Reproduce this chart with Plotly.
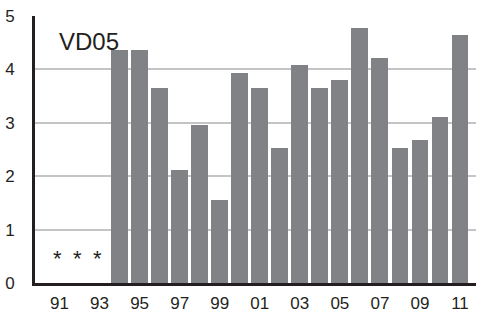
import plotly.graph_objects as go

years = ["91","92","93","94","95","96","97","98","99","00","01","02","03","04","05","06","07","08","09","10","11"]
values = [None, None, None, 4.37, 4.37, 3.65, 2.12, 2.96, 1.56, 3.94, 3.65, 2.53, 4.09, 3.65, 3.81, 4.78, 4.22, 2.53, 2.68, 3.10, 4.65]
tick_labels = ["91", "93", "95", "97", "99", "01", "03", "05", "07", "09", "11"]
missing_years = ["91", "92", "93"]
missing_marker = "*"
missing_level = 0.45
label = "VD05"

idx = list(range(len(years)))
fig = go.Figure()
fig.add_trace(go.Bar(x=idx, y=values, marker=dict(color="#808285", line=dict(width=0)), width=0.84,
                     hoverinfo="skip"))

for y in missing_years:
    fig.add_annotation(x=years.index(y) - 0.08, y=missing_level, text=missing_marker, showarrow=False,
                       font=dict(family="Liberation Sans, Arial", size=22, color="#231f20"))

fig.add_annotation(x=0.05, y=0.906, xref="paper", yref="paper", text=label, showarrow=False,
                   xanchor="left", yanchor="middle",
                   font=dict(family="Liberation Sans, Arial", size=24, color="#231f20"))

fig.update_layout(
    width=479, height=315,
    margin=dict(l=35, r=3, t=16, b=32),
    paper_bgcolor="white", plot_bgcolor="white",
    showlegend=False, bargap=0,
    font=dict(family="Liberation Sans, Arial", size=17, color="#231f20"),
)
fig.update_xaxes(
    range=[-1.225, 20.8],
    tickmode="array",
    tickvals=[years.index(t) for t in tick_labels],
    ticktext=tick_labels,
    showgrid=False, zeroline=False, automargin=False,
    showline=True, linecolor="#231f20", linewidth=3,
    ticks="", ticklabelstandoff=3,
    tickfont=dict(size=17),
)
fig.update_yaxes(
    range=[0, 5.0],
    tickvals=[0, 1, 2, 3, 4, 5],
    showgrid=True, gridcolor="#c4c4c4", gridwidth=1.5,
    zeroline=False, automargin=False,
    showline=True, linecolor="#231f20", linewidth=3,
    ticks="", ticklabelstandoff=14,
    tickfont=dict(size=17),
)
fig.write_html("out.html", config={"displayModeBar": False},
               post_script="document.body.style.margin='0';document.body.style.overflow='hidden';")
